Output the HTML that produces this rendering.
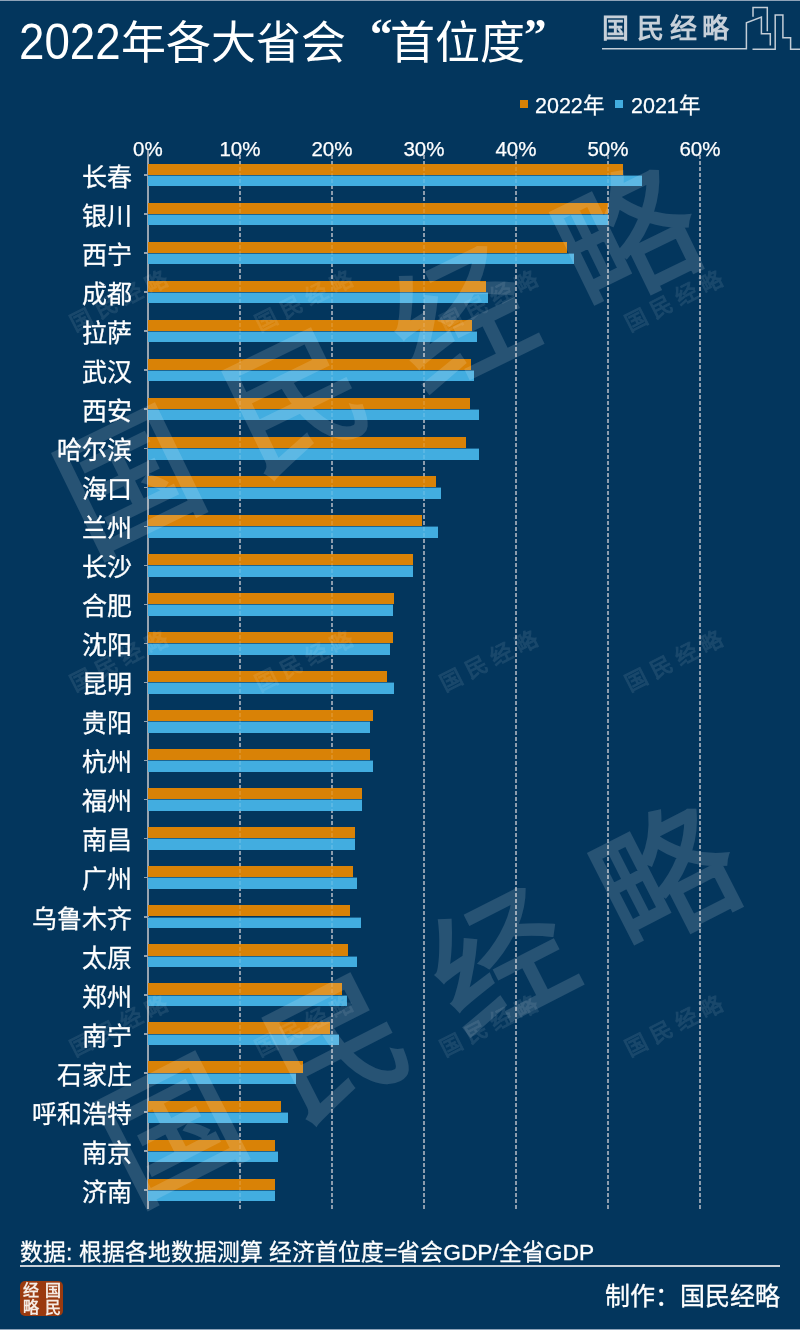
<!DOCTYPE html>
<html lang="zh-CN"><head><meta charset="utf-8">
<style>
html,body{margin:0;padding:0}
html{overflow:hidden;width:800px;height:1330px;background:#03365d}
body{will-change:transform;width:800px;height:1330px;background:#03365d;position:relative;overflow:hidden;font-family:"Liberation Sans",sans-serif;color:#fff}
.edge{position:absolute;left:0;width:800px;height:1px;background:#8fa3b8}
.title{position:absolute;left:120.5px;top:20.5px;font-size:45px;white-space:nowrap;line-height:1}
.quo{position:absolute;top:12px;font-family:"Liberation Serif",serif;font-weight:bold;font-size:45px;line-height:1}
.tdg{position:absolute;left:18.5px;top:16.5px;font-size:50px;line-height:1;transform:scaleX(0.914);transform-origin:0 0;white-space:nowrap}
.logo{position:absolute;top:16px;font-family:"Liberation Serif",serif;font-size:27px;color:#c7d0d9;font-weight:bold;line-height:1}
.leg{position:absolute;top:95.5px;font-size:21.5px;line-height:1;white-space:nowrap;-webkit-text-stroke:0.25px #fff}
.sq{position:absolute;width:8px;height:8px}
.axl{position:absolute;top:139px;width:80px;text-align:center;font-size:20.5px;line-height:1;-webkit-text-stroke:0.25px #fff}
.grid{position:absolute;top:155.1px;height:1053.9px;width:2px;background:repeating-linear-gradient(to bottom,#7d8fa2 0,#7d8fa2 3.7px,transparent 3.7px,transparent 6px)}
.grid2 .grid{background:repeating-linear-gradient(to bottom,rgba(255,255,255,0.12) 0,rgba(255,255,255,0.12) 3.7px,transparent 3.7px,transparent 6px)}
.axis{position:absolute;left:147px;top:150px;width:2px;height:1059px;background:#98a4b0}
.tick{position:absolute;left:144px;width:4px;height:1.5px;background:#98a4b0}
.bo{position:absolute;left:148px;height:11.2px;background:#d98206}
.bb{position:absolute;left:148px;height:11.5px;background:#42ade0;box-shadow:inset 0 0.9px 0 rgba(3,54,93,0.6)}
.lab{position:absolute;left:0;width:132px;text-align:right;font-size:25px;line-height:34px;white-space:nowrap;-webkit-text-stroke:0.3px #fff}
.wm{position:absolute;font-family:"Liberation Serif",serif;font-size:136px;line-height:1;white-space:nowrap;color:#fff;opacity:0.14;letter-spacing:49px;padding-left:49px;transform-origin:center;-webkit-text-stroke:3px #fff}
.wms{position:absolute;width:120px;text-align:center;font-family:"Liberation Serif",serif;font-size:22px;line-height:30px;white-space:nowrap;color:#fff;opacity:0.085;-webkit-text-stroke:0.9px #fff;letter-spacing:6px;transform:rotate(-27deg)}
.foot{position:absolute;left:20px;top:1241px;font-size:22.75px;line-height:1;white-space:nowrap;-webkit-text-stroke:0.3px #fff}
.fline{position:absolute;left:20px;top:1265px;width:760px;height:2px;background:#c9d0d8}
.maker{position:absolute;right:20px;top:1283.5px;font-size:25px;line-height:1;white-space:nowrap;-webkit-text-stroke:0.3px #fff}
.seal{position:absolute;left:20px;top:1281px;width:43px;height:35px;border-radius:5px;background:#9a3a0f;color:#f5ebe4;font-family:"Liberation Serif",serif;font-size:16px;line-height:17px;font-weight:bold}
</style></head><body><div id="wrap" style="position:absolute;left:0;top:0;width:800px;height:1330px;overflow:hidden;contain:paint">
<div class="edge" style="top:0"></div>
<div class="edge" style="top:1329px"></div>
<div class="tdg">2022</div><div class="title">年各大省会</div><div class="title" style="left:390px">首位度</div><div class="quo" style="left:370px">“</div><div class="quo" style="left:524px">”</div>
<div class="logo" style="left:601.5px">国</div>
<div class="logo" style="left:637px">民</div>
<div class="logo" style="left:670px">经</div>
<div class="logo" style="left:701.5px">略</div>
<svg style="position:absolute;left:0;top:0" width="800" height="60" fill="none" stroke="#c3cdd7" stroke-width="1.5">
<path d="M602 48.7H746.4V22.7L761.4 17.1V33.7H770.3V45.5"/>
<path d="M753 16.7V7.5H767.3V31.3"/>
<path d="M752.5 49.3H775.2V15H782.9V37.8H790.6V49.3H800"/>
</svg>
<div class="sq" style="left:520px;top:100px;background:#d98206"></div>
<div class="leg" style="left:535px">2022年</div>
<div class="sq" style="left:615px;top:100px;background:#42ade0"></div>
<div class="leg" style="left:631px">2021年</div>
<div class="axl" style="left:107.90px">0%</div><div class="axl" style="left:199.91px">10%</div><div class="axl" style="left:291.92px">20%</div><div class="axl" style="left:383.93px">30%</div><div class="axl" style="left:475.94px">40%</div><div class="axl" style="left:567.95px">50%</div><div class="axl" style="left:659.96px">60%</div>
<div class="grid" style="left:238.91px"></div><div class="grid" style="left:330.92px"></div><div class="grid" style="left:422.93px"></div><div class="grid" style="left:514.94px"></div><div class="grid" style="left:606.95px"></div><div class="grid" style="left:698.96px"></div>
<div class="axis"></div>
<div class="bo" style="top:163.55px;width:474.90px"></div><div class="bb" style="top:174.75px;width:494.10px"></div><div class="bo" style="top:202.59px;width:460.20px"></div><div class="bb" style="top:213.79px;width:460.20px"></div><div class="bo" style="top:241.63px;width:418.70px"></div><div class="bb" style="top:252.83px;width:425.70px"></div><div class="bo" style="top:280.67px;width:337.70px"></div><div class="bb" style="top:291.87px;width:340.40px"></div><div class="bo" style="top:319.71px;width:323.90px"></div><div class="bb" style="top:330.91px;width:328.70px"></div><div class="bo" style="top:358.75px;width:323.00px"></div><div class="bb" style="top:369.95px;width:326.00px"></div><div class="bo" style="top:397.79px;width:321.90px"></div><div class="bb" style="top:408.99px;width:330.50px"></div><div class="bo" style="top:436.83px;width:317.60px"></div><div class="bb" style="top:448.03px;width:331.10px"></div><div class="bo" style="top:475.87px;width:288.00px"></div><div class="bb" style="top:487.07px;width:292.80px"></div><div class="bo" style="top:514.91px;width:274.20px"></div><div class="bb" style="top:526.11px;width:290.00px"></div><div class="bo" style="top:553.95px;width:265.00px"></div><div class="bb" style="top:565.15px;width:265.00px"></div><div class="bo" style="top:592.99px;width:245.80px"></div><div class="bb" style="top:604.19px;width:244.90px"></div><div class="bo" style="top:632.03px;width:244.90px"></div><div class="bb" style="top:643.23px;width:242.10px"></div><div class="bo" style="top:671.07px;width:239.10px"></div><div class="bb" style="top:682.27px;width:245.80px"></div><div class="bo" style="top:710.11px;width:224.60px"></div><div class="bb" style="top:721.31px;width:221.90px"></div><div class="bo" style="top:749.15px;width:221.90px"></div><div class="bb" style="top:760.35px;width:225.40px"></div><div class="bo" style="top:788.19px;width:213.60px"></div><div class="bb" style="top:799.39px;width:213.60px"></div><div class="bo" style="top:827.23px;width:206.80px"></div><div class="bb" style="top:838.43px;width:206.80px"></div><div class="bo" style="top:866.27px;width:205.20px"></div><div class="bb" style="top:877.47px;width:208.90px"></div><div class="bo" style="top:905.31px;width:201.50px"></div><div class="bb" style="top:916.51px;width:212.80px"></div><div class="bo" style="top:944.35px;width:199.60px"></div><div class="bb" style="top:955.55px;width:208.90px"></div><div class="bo" style="top:983.39px;width:194.10px"></div><div class="bb" style="top:994.59px;width:199.00px"></div><div class="bo" style="top:1022.43px;width:182.00px"></div><div class="bb" style="top:1033.63px;width:190.50px"></div><div class="bo" style="top:1061.47px;width:154.80px"></div><div class="bb" style="top:1072.67px;width:147.90px"></div><div class="bo" style="top:1100.51px;width:132.60px"></div><div class="bb" style="top:1111.71px;width:140.00px"></div><div class="bo" style="top:1139.55px;width:127.00px"></div><div class="bb" style="top:1150.75px;width:129.90px"></div><div class="bo" style="top:1178.59px;width:127.00px"></div><div class="bb" style="top:1189.79px;width:127.00px"></div>
<div class="grid2"><div class="grid" style="left:238.91px"></div><div class="grid" style="left:330.92px"></div><div class="grid" style="left:422.93px"></div><div class="grid" style="left:514.94px"></div><div class="grid" style="left:606.95px"></div><div class="grid" style="left:698.96px"></div></div>
<div class="tick" style="top:174.25px"></div><div class="tick" style="top:213.29px"></div><div class="tick" style="top:252.33px"></div><div class="tick" style="top:291.37px"></div><div class="tick" style="top:330.41px"></div><div class="tick" style="top:369.45px"></div><div class="tick" style="top:408.49px"></div><div class="tick" style="top:447.53px"></div><div class="tick" style="top:486.57px"></div><div class="tick" style="top:525.61px"></div><div class="tick" style="top:564.65px"></div><div class="tick" style="top:603.69px"></div><div class="tick" style="top:642.73px"></div><div class="tick" style="top:681.77px"></div><div class="tick" style="top:720.81px"></div><div class="tick" style="top:759.85px"></div><div class="tick" style="top:798.89px"></div><div class="tick" style="top:837.93px"></div><div class="tick" style="top:876.97px"></div><div class="tick" style="top:916.01px"></div><div class="tick" style="top:955.05px"></div><div class="tick" style="top:994.09px"></div><div class="tick" style="top:1033.13px"></div><div class="tick" style="top:1072.17px"></div><div class="tick" style="top:1111.21px"></div><div class="tick" style="top:1150.25px"></div><div class="tick" style="top:1189.29px"></div>
<div class="lab" style="top:159.75px">长春</div><div class="lab" style="top:198.79px">银川</div><div class="lab" style="top:237.83px">西宁</div><div class="lab" style="top:276.87px">成都</div><div class="lab" style="top:315.91px">拉萨</div><div class="lab" style="top:354.95px">武汉</div><div class="lab" style="top:393.99px">西安</div><div class="lab" style="top:433.03px">哈尔滨</div><div class="lab" style="top:472.07px">海口</div><div class="lab" style="top:511.11px">兰州</div><div class="lab" style="top:550.15px">长沙</div><div class="lab" style="top:589.19px">合肥</div><div class="lab" style="top:628.23px">沈阳</div><div class="lab" style="top:667.27px">昆明</div><div class="lab" style="top:706.31px">贵阳</div><div class="lab" style="top:745.35px">杭州</div><div class="lab" style="top:784.39px">福州</div><div class="lab" style="top:823.43px">南昌</div><div class="lab" style="top:862.47px">广州</div><div class="lab" style="top:901.51px">乌鲁木齐</div><div class="lab" style="top:940.55px">太原</div><div class="lab" style="top:979.59px">郑州</div><div class="lab" style="top:1018.63px">南宁</div><div class="lab" style="top:1057.67px">石家庄</div><div class="lab" style="top:1096.71px">呼和浩特</div><div class="lab" style="top:1135.75px">南京</div><div class="lab" style="top:1174.79px">济南</div>
<div class="wms" style="left:62px;top:285px">国民经略</div><div class="wms" style="left:247px;top:285px">国民经略</div><div class="wms" style="left:432px;top:285px">国民经略</div><div class="wms" style="left:617px;top:285px">国民经略</div><div class="wms" style="left:62px;top:645px">国民经略</div><div class="wms" style="left:247px;top:645px">国民经略</div><div class="wms" style="left:432px;top:645px">国民经略</div><div class="wms" style="left:617px;top:645px">国民经略</div><div class="wms" style="left:62px;top:1010px">国民经略</div><div class="wms" style="left:247px;top:1010px">国民经略</div><div class="wms" style="left:432px;top:1010px">国民经略</div><div class="wms" style="left:617px;top:1010px">国民经略</div>
<div class="wm" style="left:380px;top:363px;transform:translate(-50%,-50%) rotate(-26deg)">国民经略</div>
<div class="wm" style="left:420px;top:1007px;transform:translate(-50%,-50%) rotate(-27deg)">国民经略</div>
<div class="foot">数据: 根据各地数据测算 经济首位度=省会GDP/全省GDP</div>
<div class="fline"></div>
<div class="maker">制作：国民经略</div>
<div class="seal"><span style="position:absolute;left:3px;top:0.5px">经</span><span style="position:absolute;left:24.5px;top:0.5px">国</span><span style="position:absolute;left:3px;top:18px">略</span><span style="position:absolute;left:25px;top:18px">民</span></div>
</div></body></html>
